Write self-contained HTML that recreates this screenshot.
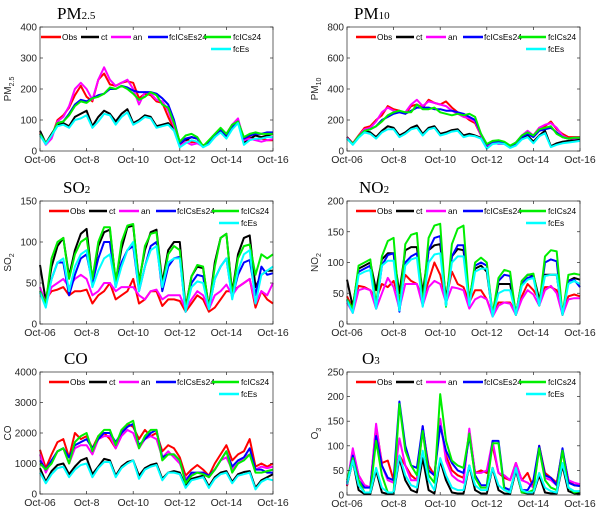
<!DOCTYPE html>
<html><head><meta charset="utf-8">
<style>
html,body{margin:0;padding:0;background:#fff;}
svg{display:block;font-family:"Liberation Sans",sans-serif;}
</style></head>
<body>
<svg id="chart" width="600" height="514" viewBox="0 0 600 514"></svg>
<script>
const seriesNames = ["Obs","ct","an","fcICsEs24","fcICs24","fcEs"];
const seriesColors = ["#ff0000","#000000","#ff00ff","#0000ff","#00ee00","#00ffff"];
const xTickLabels = ["Oct-06","Oct-8","Oct-10","Oct-12","Oct-14","Oct-16"];
const stepDays = 0.25;

const pm25Obs = [60,22,45,100,115,140,180,210,175,160,230,250,215,210,220,225,220,170,185,180,160,155,110,70,20,40,28,30,18,25,45,70,55,85,100,40,45,38,40,35,35];
const pm25Ct = [65,25,55,85,90,80,110,120,130,80,110,130,120,95,120,135,90,100,115,110,80,85,90,70,15,35,45,40,15,25,50,65,45,75,95,25,40,50,45,50,55];
const pm25An = [55,20,40,95,110,145,200,220,200,165,230,270,230,210,220,230,200,150,190,185,165,160,130,80,15,30,20,25,15,30,50,70,55,85,105,35,40,35,30,35,38];
const pm25FcICsEs24 = [55,25,50,90,95,120,150,165,160,170,180,185,200,200,210,205,195,190,190,190,185,170,150,100,25,40,45,40,15,30,50,70,50,80,95,40,50,55,55,60,60];
const pm25FcICs24 = [55,25,50,90,95,115,145,160,155,170,175,185,205,200,210,200,185,165,175,190,180,150,140,90,30,50,55,45,15,35,55,75,55,85,95,45,55,60,55,55,55];
const pm25FcEs = [50,22,50,80,85,75,100,105,115,75,95,120,115,85,110,125,85,95,110,105,75,80,85,65,12,25,35,30,12,22,45,60,40,70,90,20,35,40,40,45,45];

const pm10Obs = [90,50,100,150,160,200,230,290,270,260,240,290,300,280,330,310,300,320,280,250,230,200,180,100,40,60,50,55,30,50,90,120,100,150,160,190,140,110,90,90,90];
const pm10Ct = [90,45,90,130,120,90,130,160,150,100,120,150,165,110,150,160,110,120,135,140,100,110,100,85,20,50,60,55,25,40,80,100,60,100,130,30,50,60,65,70,75];
const pm10An = [85,45,95,140,150,190,250,280,260,250,250,300,330,290,320,310,300,290,260,240,220,210,190,100,35,55,45,45,30,55,100,130,100,150,170,180,150,100,80,80,85];
const pm10FcICsEs24 = [80,45,95,130,140,160,200,220,240,250,240,260,280,280,280,270,270,260,260,250,240,220,200,110,40,60,60,55,30,50,90,110,90,130,140,150,120,90,80,85,85];
const pm10FcICs24 = [80,45,95,130,140,160,190,230,250,260,250,250,300,270,270,280,250,240,230,240,230,240,220,110,45,65,70,60,35,55,100,120,100,140,150,160,110,90,80,85,85];
const pm10FcEs = [80,40,85,120,110,80,120,140,140,90,110,140,150,100,140,150,100,110,125,130,90,100,95,80,15,45,50,45,20,35,75,90,50,95,115,25,40,50,55,60,65];

const so2Obs = [35,30,40,42,45,35,40,40,42,25,35,40,50,30,35,40,55,25,30,40,40,22,30,30,28,15,25,35,30,15,20,30,40,40,45,50,55,20,40,30,25];
const so2Ct = [72,28,70,95,105,58,90,110,116,52,95,112,115,52,92,118,120,52,90,112,115,50,90,100,100,20,58,70,68,20,75,105,110,38,85,105,108,45,60,65,65];
const so2An = [45,25,45,50,55,45,55,60,55,35,40,50,50,40,45,45,45,35,30,40,42,30,35,35,35,18,30,40,35,18,35,40,48,35,45,50,55,25,40,35,50];
const so2FcICsEs24 = [40,25,55,75,75,35,60,80,85,50,80,100,100,45,75,90,95,40,70,95,100,40,70,80,82,15,50,60,58,18,55,70,80,32,60,75,78,35,70,60,62];
const so2FcICs24 = [40,25,80,100,105,55,85,100,105,55,100,118,118,50,100,120,122,48,95,110,112,45,85,95,90,18,58,72,70,18,70,105,110,35,80,95,97,60,85,80,85];
const so2FcEs = [38,20,55,75,80,40,70,85,90,45,65,80,85,45,70,90,100,40,70,90,95,45,75,80,80,15,45,52,50,18,55,70,80,30,65,85,90,25,60,65,70];

const no2Obs = [45,25,62,60,55,40,65,60,70,40,80,70,65,40,70,100,80,40,85,65,60,35,55,55,40,15,35,35,35,18,45,65,55,40,60,60,55,20,45,48,45];
const no2Ct = [72,28,90,95,100,55,105,115,115,50,120,125,125,50,120,128,130,40,110,122,120,40,90,95,85,15,65,65,65,15,70,80,80,40,80,80,80,15,70,75,72];
const no2An = [35,18,55,58,55,25,50,75,60,25,65,65,65,30,60,70,65,35,60,58,55,25,40,45,40,12,30,35,33,15,40,55,48,30,55,62,50,15,40,42,42];
const no2FcICsEs24 = [40,20,85,90,95,25,95,112,115,20,100,110,115,30,120,140,143,30,110,128,128,35,95,100,95,15,70,80,78,15,65,75,78,30,100,105,102,15,70,72,60];
const no2FcICs24 = [40,25,95,100,105,30,110,135,140,25,130,145,148,30,140,160,163,28,130,155,160,35,100,108,100,15,75,88,85,15,70,80,82,30,110,120,118,15,80,82,80];
const no2FcEs = [38,18,80,85,88,25,95,103,103,22,95,105,108,28,100,113,115,30,100,110,110,30,85,90,90,12,50,55,55,15,62,72,75,30,78,80,80,15,65,70,65];

const coObs = [1450,850,1300,1700,1800,1200,2000,1800,1900,1500,1900,2000,1800,1500,2000,2300,2200,1800,2100,1900,2000,1400,1600,1500,1200,600,800,950,800,600,1000,1300,1600,1100,1300,1400,1800,900,1000,900,1000];
const coCt = [850,400,750,950,1000,650,900,1100,1180,650,900,1150,1100,600,900,1050,1100,600,850,950,1000,500,700,750,700,250,500,550,600,250,550,700,750,400,650,720,750,200,450,550,650];
const coAn = [1300,700,1100,1400,1500,1000,1500,1600,1600,1300,1800,1900,1900,1500,1900,2100,2000,1500,1800,1900,1800,1200,1400,1200,1000,500,650,700,700,550,800,1100,1200,800,1000,1200,1300,800,900,850,900];
const coFcICsEs24 = [1100,800,1100,1400,1500,1200,1600,1700,1800,1500,1800,2000,2000,1700,2000,2200,2300,1600,1800,2000,2100,1200,1300,1300,1100,400,700,700,700,600,800,1100,1400,900,1100,1200,1500,800,800,700,700];
const coFcICs24 = [1000,800,1000,1400,1500,1000,1700,1900,2000,1400,1900,2100,2100,1600,2100,2300,2400,1500,1900,2100,2100,1100,1300,1300,1100,350,600,700,650,550,800,1100,1400,700,1000,1100,1300,700,700,750,800];
const coFcEs = [700,350,650,850,900,550,800,950,1000,550,850,1050,1050,550,850,1000,1100,500,800,900,950,450,700,700,650,200,450,500,550,200,500,650,700,350,600,650,700,150,400,500,450];

const o3Obs = [18,90,40,20,15,140,65,70,30,80,60,40,30,135,60,40,150,80,50,40,35,130,45,50,45,100,45,35,30,65,30,45,15,100,45,35,25,90,30,20,20];
const o3Ct = [20,70,10,2,2,50,5,2,2,75,30,10,5,75,10,3,70,30,5,3,3,60,10,3,3,55,10,3,2,50,5,3,3,40,5,3,3,60,8,3,3];
const o3An = [20,95,40,20,15,145,60,30,25,115,60,30,30,140,50,40,155,70,40,30,25,135,45,45,50,110,45,40,30,65,30,25,15,95,35,30,20,90,30,25,22];
const o3FcICsEs24 = [25,80,30,15,15,120,60,35,30,190,100,60,55,140,50,40,140,90,65,50,45,120,40,20,20,110,110,15,10,50,10,10,30,100,40,35,20,95,25,20,18];
const o3FcICs24 = [30,75,30,5,5,110,40,5,5,185,90,60,40,130,40,25,205,110,70,60,55,125,35,15,15,105,105,10,5,55,5,5,10,95,30,15,10,90,15,5,8];
const o3FcEs = [22,70,20,5,5,55,15,5,5,80,40,20,15,90,30,10,75,40,15,10,10,60,20,10,10,55,20,10,5,55,10,5,5,45,15,8,5,65,15,8,8];

const pm25Ticks = [0,100,200,300,400];
const pm10Ticks = [0,200,400,600,800];
const so2Ticks = [0,50,100,150];
const no2Ticks = [0,50,100,150,200];
const coTicks = [0,1000,2000,3000,4000];
const o3Ticks = [0,50,100,150,200,250];

const NS = "http://www.w3.org/2000/svg";
const svg = document.getElementById("chart");
function mk(tag, attrs, parent){
  const e = document.createElementNS(NS, tag);
  for (const k in attrs) e.setAttribute(k, attrs[k]);
  (parent||svg).appendChild(e);
  return e;
}

const panels = [
  {key:"pm25", title:"PM", sub:"2.5", ylab:"PM", ysub:"2.5", L:40, T:27, R:273, B:151, ticks:pm25Ticks, data:[pm25Obs,pm25Ct,pm25An,pm25FcICsEs24,pm25FcICs24,pm25FcEs], tx:57, leg:0},
  {key:"pm10", title:"PM", sub:"10", ylab:"PM", ysub:"10", L:347, T:27, R:580, B:151, ticks:pm10Ticks, data:[pm10Obs,pm10Ct,pm10An,pm10FcICsEs24,pm10FcICs24,pm10FcEs], tx:354, leg:8},
  {key:"so2", title:"SO", sub:"2", ylab:"SO", ysub:"2", L:40, T:201, R:273, B:324, ticks:so2Ticks, data:[so2Obs,so2Ct,so2An,so2FcICsEs24,so2FcICs24,so2FcEs], tx:63, leg:8},
  {key:"no2", title:"NO", sub:"2", ylab:"NO", ysub:"2", L:347, T:201, R:580, B:324, ticks:no2Ticks, data:[no2Obs,no2Ct,no2An,no2FcICsEs24,no2FcICs24,no2FcEs], tx:359, leg:8},
  {key:"co", title:"CO", sub:"", ylab:"CO", ysub:"", L:40, T:372, R:273, B:494, ticks:coTicks, data:[coObs,coCt,coAn,coFcICsEs24,coFcICs24,coFcEs], tx:64, leg:8},
  {key:"o3", title:"O", sub:"3", ylab:"O", ysub:"3", L:347, T:372, R:580, B:495, ticks:o3Ticks, data:[o3Obs,o3Ct,o3An,o3FcICsEs24,o3FcICs24,o3FcEs], tx:362, leg:8}
];

const legLine = [[0,20],[40,58],[70,90],[107,127],[163,190]];
const legText = [21,60,92,128,192];

panels.forEach(p => {
  const g = mk("g", {});
  
  
  const ymax = p.ticks[p.ticks.length-1];
  const xs = d => p.L + (d/10)*(p.R-p.L);
  const ys = v => p.B - (v/ymax)*(p.B-p.T);

  const t = mk("text", {x:p.tx, y:p.T-8, "font-family":"Liberation Serif, serif", "font-size":"17"}, g);
  
  
  t.textContent = p.title;
  if (p.sub){ const s = mk("tspan", {"font-size":"11"}, t); s.textContent = p.sub; }

  p.data.forEach((arr, si) => {
    const pts = arr.map((v,i) => xs(i*stepDays).toFixed(1)+","+ys(v).toFixed(1)).join(" ");
    const pl = mk("polyline", {points:pts, fill:"none", stroke:seriesColors[si], "stroke-width":"2", "stroke-linejoin":"round"}, g);
    
    
  });

  const box = mk("rect", {x:p.L, y:p.T, width:p.R-p.L, height:p.B-p.T, fill:"none", stroke:"#262626", "stroke-width":"0.7"}, g);
  
  

  p.ticks.forEach(v => {
    mk("line", {x1:p.L, x2:p.L+3, y1:ys(v), y2:ys(v), stroke:"#262626", "stroke-width":"0.7"}, g);
    mk("line", {x1:p.R, x2:p.R-3, y1:ys(v), y2:ys(v), stroke:"#262626", "stroke-width":"0.7"}, g);
    const tl = mk("text", {x:p.L-3, y:ys(v)+3.5, "text-anchor":"end", "font-size":"10", fill:"#262626"}, g);
    
    
    tl.textContent = v;
  });
  xTickLabels.forEach((lab, i) => {
    const x = xs(i*2);
    mk("line", {x1:x, x2:x, y1:p.B, y2:p.B-3, stroke:"#262626", "stroke-width":"0.7"}, g);
    mk("line", {x1:x, x2:x, y1:p.T, y2:p.T+3, stroke:"#262626", "stroke-width":"0.7"}, g);
    const tl = mk("text", {x:x, y:p.B+12, "text-anchor":"middle", "font-size":"10.5", fill:"#262626"}, g);
    
    
    tl.textContent = lab;
  });
  const cy = (p.T+p.B)/2;
  const yl = mk("text", {x:0, y:0, "font-size":"10", fill:"#262626", "text-anchor":"middle", transform:"translate("+(p.L-29)+","+cy+") rotate(-90)"}, g);
  
  
  yl.textContent = p.ylab;
  if (p.ysub){ const s = mk("tspan", {"font-size":"7", dy:"3"}, yl); s.textContent = p.ysub; }

  const lg = mk("g", {}, g);
  
  
  const lx = p.L + 1 + p.leg, ly1 = p.T + 10, ly2 = p.T + 22;
  for (let i=0;i<6;i++){
    let a,b,tx,yy;
    if (i<5){ a=legLine[i][0]; b=legLine[i][1]; tx=legText[i]; yy=ly1; }
    else { a=170; b=190; tx=192; yy=ly2; }
    const e = mk("g", {}, lg);
    
    
    mk("line", {x1:lx+a, x2:lx+b, y1:yy, y2:yy, stroke:seriesColors[i], "stroke-width":"2.5"}, e);
    const tt = mk("text", {x:lx+tx, y:yy+3, "font-size":"8.3", fill:"#000"}, e);
    tt.textContent = seriesNames[i];
  }
});
</script>
</body></html>
